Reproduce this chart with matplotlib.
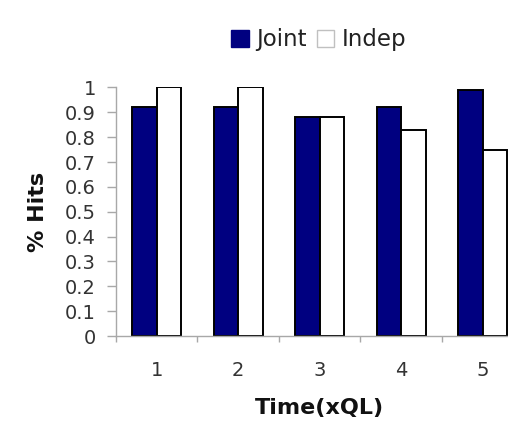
import numpy as np
import matplotlib
matplotlib.use("Agg")
import matplotlib.pyplot as plt
from matplotlib.patches import Patch

# Data
times = ["1", "2", "3", "4", "5"]
joint = [0.92, 0.92, 0.88, 0.92, 0.99]
indep = [1.0, 1.0, 0.88, 0.83, 0.75]
y_ticks = [0, 0.1, 0.2, 0.3, 0.4, 0.5, 0.6, 0.7, 0.8, 0.9, 1]
y_tick_labels = ["0", "0.1", "0.2", "0.3", "0.4", "0.5", "0.6", "0.7", "0.8", "0.9", "1"]

plt.rcParams["font.family"] = ["DejaVu Sans"]

fig = plt.figure(figsize=(5.08, 4.33), dpi=100)
fig.patch.set_facecolor("white")
ax = fig.add_axes([0.2283, 0.224, 0.802, 0.574])

x = np.arange(len(times))
w = 0.3
ax.bar(x - w / 2, joint, w, color="#000080", edgecolor="black", linewidth=1.4, label="Joint")
ax.bar(x + w / 2, indep, w, color="white", edgecolor="black", linewidth=1.4, label="Indep")

ax.set_xlim(-0.5, 4.5)
ax.set_ylim(0, 1)

grey = "#a8a8a8"
for side in ("top", "right"):
    ax.spines[side].set_visible(False)
for side in ("left", "bottom"):
    ax.spines[side].set_color(grey)
    ax.spines[side].set_linewidth(1.0)

ax.set_yticks(y_ticks)
ax.set_yticklabels(y_tick_labels)
ax.tick_params(axis="y", length=6.5, color=grey, width=1.0, labelsize=14,
               labelcolor="#333333", pad=8)

ax.set_xticks(x)
ax.set_xticklabels(times)
ax.set_xticks(np.arange(-0.5, 5.0, 1.0), minor=True)
ax.tick_params(axis="x", which="major", length=0, labelsize=14,
               labelcolor="#333333", pad=18)
ax.tick_params(axis="x", which="minor", length=4.5, color=grey, width=1.0)

ax.set_ylabel("% Hits", fontsize=16, fontweight="bold", labelpad=12, color="#111111")
ax.set_xlabel("Time(xQL)", fontsize=16, fontweight="bold", labelpad=13, color="#111111")

handles = [Patch(facecolor="#000080", edgecolor="#000080"),
           Patch(facecolor="white", edgecolor="#c0c0c0")]
fig.legend(handles, ["Joint", "Indep"], loc="center", bbox_to_anchor=(0.627, 0.908),
           ncol=2, frameon=False, fontsize=16.5, handlelength=0.78, handleheight=0.78,
           handletextpad=0.3, columnspacing=0.45, labelcolor="#222222")

fig.savefig("out.png", dpi=100, facecolor="white")
